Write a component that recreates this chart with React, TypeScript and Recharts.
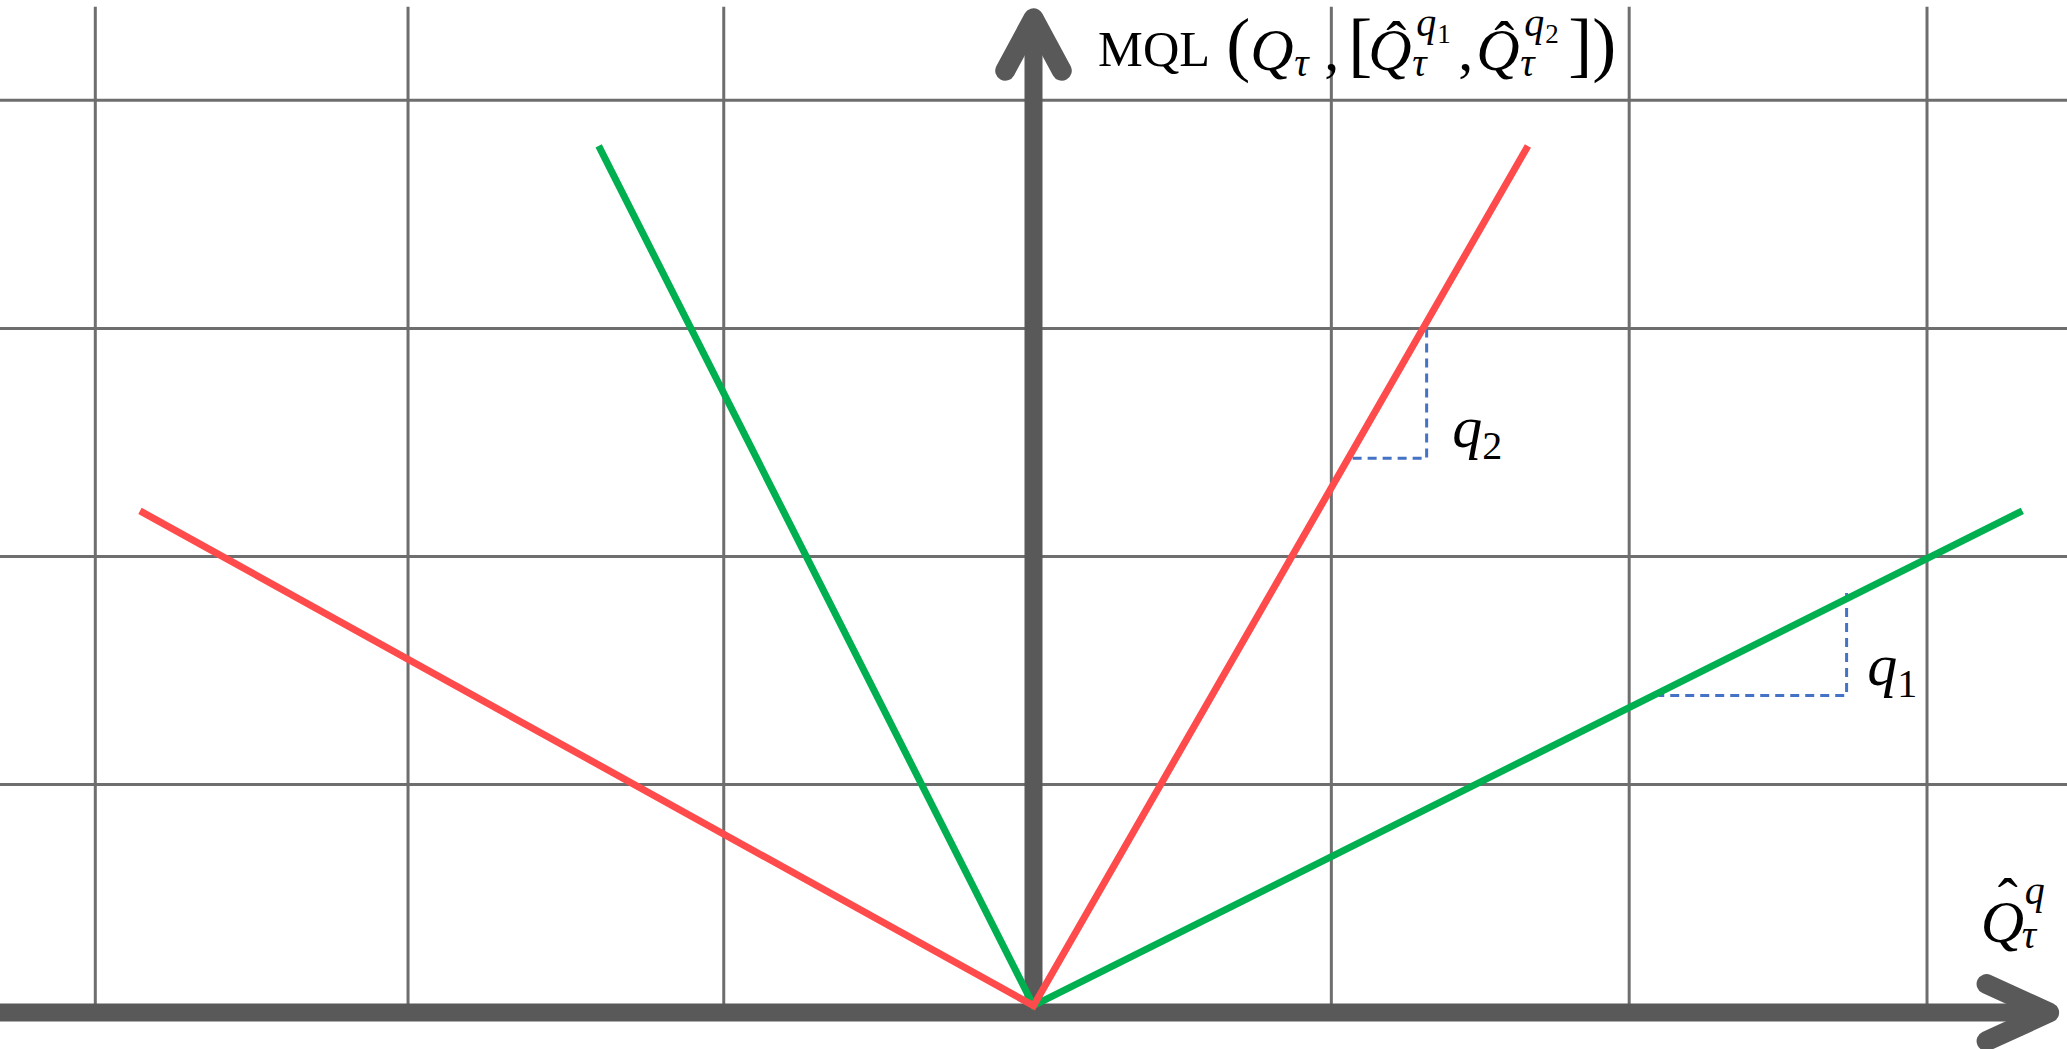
import React from 'react';
import { ComposedChart, Line, XAxis, YAxis, ReferenceDot } from 'recharts';

// plot units: x = horizontal grid steps from the vertical axis, y = grid rows above the horizontal axis
const xDomain = [-3.47, 3.47];
const yDomain = [-0.16, 4.44];
const gridXs = [-3.15, -2.1, -1.04, 1, 2, 3];
const gridYs = [1, 2, 3, 4];
const gridTop = 4.41;

// the two loss curves
const redLine = [
  { x: -3.0, y: 2.2 },
  { x: 0, y: 0.03 },
  { x: 1.66, y: 3.8 },
];
const greenLine = [
  { x: -1.46, y: 3.8 },
  { x: 0, y: 0.03 },
  { x: 3.32, y: 2.2 },
];

// slope triangles
const q2Guide = [
  { x: 1.32, y: 3.0 },
  { x: 1.32, y: 2.43 },
  { x: 1.07, y: 2.43 },
];
const q1Guide = [
  { x: 2.73, y: 1.84 },
  { x: 2.73, y: 1.39 },
  { x: 2.1, y: 1.39 },
];

// axes with arrow heads
const xAxisShaft = [
  { x: -3.47, y: 0 },
  { x: 3.38, y: 0 },
];
const yAxisShaft = [
  { x: 0, y: 0 },
  { x: 0, y: 4.33 },
];
const xArrowHead = [
  { x: 3.2, y: 0.125 },
  { x: 3.41, y: 0 },
  { x: 3.2, y: -0.125 },
];
const yArrowHead = [
  { x: -0.095, y: 4.13 },
  { x: 0, y: 4.36 },
  { x: 0.095, y: 4.13 },
];

const serif = '"Liberation Serif", "DejaVu Serif", serif';
const GRID = '#6e6e6e';
const AXIS = '#595959';
const RED = '#ff4b4b';
const GREEN = '#00b050';
const GUIDE = '#4472c4';

const txt = (cx, cy, dx, dy, s, size, italic, extra = {}) => (
  <text
    x={cx + dx}
    y={cy + dy}
    fontSize={size}
    fontStyle={italic ? 'italic' : 'normal'}
    fontFamily={serif}
    fill="#000"
    {...extra}
  >
    {s}
  </text>
);

const HAT = '\u02C6';

// cx, cy = left end / baseline of the y axis title
const MqlLabel = ({ cx, cy }) => (
  <g>
    {txt(cx, cy, 0, -4, 'MQL', 50, false, { textLength: 112, lengthAdjust: 'spacingAndGlyphs' })}
    {txt(cx, cy, 128, -2, '(', 72, false)}
    {txt(cx, cy, 152, 0, 'Q', 60, true)}
    {txt(cx, cy, 196, 6, 'τ', 40, true)}
    {txt(cx, cy, 226, 0, ',', 60, false)}
    {txt(cx, cy, 250, -2, '[', 72, false)}
    {txt(cx, cy, 270, 0, 'Q', 60, true)}
    {txt(cx, cy, 298, -8, HAT, 60, false, { textAnchor: 'middle' })}
    {txt(cx, cy, 318, -34, 'q', 40, true)}
    {txt(cx, cy, 339, -27, '1', 27, false)}
    {txt(cx, cy, 314, 6, 'τ', 40, true)}
    {txt(cx, cy, 360, 0, ',', 60, false)}
    {txt(cx, cy, 378, 0, 'Q', 60, true)}
    {txt(cx, cy, 406, -8, HAT, 60, false, { textAnchor: 'middle' })}
    {txt(cx, cy, 426, -34, 'q', 40, true)}
    {txt(cx, cy, 447, -27, '2', 27, false)}
    {txt(cx, cy, 422, 6, 'τ', 40, true)}
    {txt(cx, cy, 470, -2, ']', 72, false)}
    {txt(cx, cy, 494, -2, ')', 72, false)}
  </g>
);

const XLabel = ({ cx, cy }) => (
  <g>
    {txt(cx, cy, 0, 0, 'Q', 60, true)}
    {txt(cx, cy, 27, -23, HAT, 60, false, { textAnchor: 'middle' })}
    {txt(cx, cy, 44, -38, 'q', 40, true)}
    {txt(cx, cy, 41, 6, 'τ', 40, true)}
  </g>
);

const QLabel = ({ cx, cy, sub }) => (
  <g>
    {txt(cx, cy, 0, 0, 'q', 60, true)}
    {txt(cx, cy, 30, 12, sub, 40, false)}
  </g>
);

const seg = (key, data, stroke, width, extra = {}) => (
  <Line
    key={key}
    data={data}
    dataKey="y"
    name={key}
    type="linear"
    stroke={stroke}
    strokeWidth={width}
    dot={false}
    activeDot={false}
    isAnimationActive={false}
    {...extra}
  />
);

export default function App() {
  return (
    <div style={{ position: 'absolute', left: 0, top: 0 }}>
      <ComposedChart width={2067} height={1049} margin={{ top: 0, right: 0, bottom: 0, left: 0 }}>
        <XAxis type="number" dataKey="x" domain={xDomain} allowDataOverflow hide />
        <YAxis type="number" dataKey="y" domain={yDomain} allowDataOverflow hide />

        {gridYs.map((gy) =>
          seg(`h${gy}`, [{ x: xDomain[0], y: gy }, { x: xDomain[1], y: gy }], GRID, 3)
        )}
        {gridXs.map((gx) =>
          seg(`v${gx}`, [{ x: gx, y: 0 }, { x: gx, y: gridTop }], GRID, 3)
        )}

        {seg('xAxis', xAxisShaft, AXIS, 18)}
        {seg('yAxis', yAxisShaft, AXIS, 18)}
        {seg('xArrow', xArrowHead, AXIS, 20, { strokeLinecap: 'round', strokeLinejoin: 'round' })}
        {seg('yArrow', yArrowHead, AXIS, 20, { strokeLinecap: 'round', strokeLinejoin: 'round' })}

        {seg('q2Guide', q2Guide, GUIDE, 3, { strokeDasharray: '9 6' })}
        {seg('q1Guide', q1Guide, GUIDE, 3, { strokeDasharray: '9 6' })}

        {seg('green', greenLine, GREEN, 7)}
        {seg('red', redLine, RED, 7)}

        <ReferenceDot x={0.217} y={4.133} r={0} shape={(p) => <MqlLabel cx={p.cx} cy={p.cy} />} />
        <ReferenceDot x={3.18} y={0.31} r={0} shape={(p) => <XLabel cx={p.cx} cy={p.cy} />} />
        <ReferenceDot x={1.406} y={2.48} r={0} shape={(p) => <QLabel cx={p.cx} cy={p.cy} sub="2" />} />
        <ReferenceDot x={2.799} y={1.436} r={0} shape={(p) => <QLabel cx={p.cx} cy={p.cy} sub="1" />} />
      </ComposedChart>
    </div>
  );
}
